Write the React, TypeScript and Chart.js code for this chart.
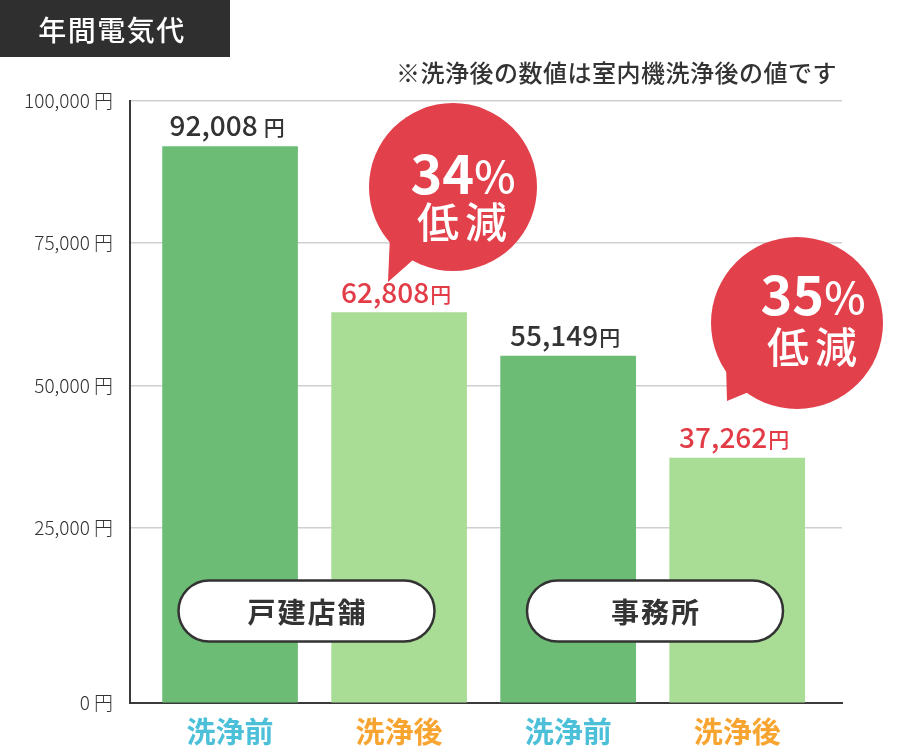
import React, { useEffect, useRef } from "react";
import { Chart, registerables } from "chart.js";

Chart.register(...registerables);

// ---- data ----
const categories = ["洗浄前", "洗浄後", "洗浄前", "洗浄後"];
const groupLabels = ["戸建店舗", "事務所"];
const costValues = [92008, 62808, 55149, 37262];
const reductionLabels = ["34%", "35%"];
const yTickValues = [0, 25000, 50000, 75000, 100000];
const titleText = "年間電気代";
const noteText = "※洗浄後の数値は室内機洗浄後の値です";
const unitText = "円";
const reductionWord = "低減";

// ---- styles ----
const FONT = "'Noto Sans CJK JP', 'Noto Sans', sans-serif";
const barColors = ["#6cbc75", "#a9dd96", "#6cbc75", "#a9dd96"];
const valueColors = ["#333333", "#e23c47", "#333333", "#e23c47"];
const tickColors = ["#4cbfd9", "#f7a530", "#4cbfd9", "#f7a530"];
const valueGaps = [6, 1, 1, 1];
const RED = "#e2404b";
// The reference draws its 0 baseline below the linear position of 0
const AXIS_FLOOR = -5800;

function fmt(v: number) {
  return v.toLocaleString("en-US");
}

function roundRectPath(ctx: CanvasRenderingContext2D, x: number, y: number, w: number, h: number, r: number) {
  ctx.beginPath();
  ctx.moveTo(x + r, y);
  ctx.lineTo(x + w - r, y);
  ctx.arc(x + w - r, y + r, r, -Math.PI / 2, 0);
  ctx.lineTo(x + w, y + h - r);
  ctx.arc(x + w - r, y + h - r, r, 0, Math.PI / 2);
  ctx.lineTo(x + r, y + h);
  ctx.arc(x + r, y + h - r, r, Math.PI / 2, Math.PI);
  ctx.lineTo(x, y + r);
  ctx.arc(x + r, y + r, r, Math.PI, Math.PI * 1.5);
  ctx.closePath();
}

export default function App() {
  const ref = useRef<HTMLCanvasElement>(null);

  useEffect(() => {
    const canvas = ref.current;
    if (!canvas) return;

    const decor = {
      id: "decor",
      beforeDraw(chart: any) {
        const ctx: CanvasRenderingContext2D = chart.ctx;
        ctx.save();
        ctx.fillStyle = "#ffffff";
        ctx.fillRect(0, 0, chart.width, chart.height);
        // title tag
        ctx.fillStyle = "#2f2f2f";
        ctx.fillRect(0, 0, 230, 57);
        ctx.fillStyle = "#ffffff";
        ctx.font = `500 28px ${FONT}`;
        ctx.textAlign = "center";
        ctx.textBaseline = "middle";
        (ctx as any).letterSpacing = "1.5px";
        ctx.fillText(titleText, 112, 30);
        // note
        ctx.fillStyle = "#333333";
        ctx.font = `500 24px ${FONT}`;
        ctx.textAlign = "right";
        (ctx as any).letterSpacing = "0.5px";
        ctx.fillText(noteText, 837, 73);
        ctx.restore();
      },
      afterDatasetsDraw(chart: any) {
        const ctx: CanvasRenderingContext2D = chart.ctx;
        const meta = chart.getDatasetMeta(0);
        ctx.save();
        ctx.textBaseline = "alphabetic";
        ctx.textAlign = "left";
        meta.data.forEach((el: any, i: number) => {
          const num = fmt(costValues[i]);
          ctx.font = `500 28px ${FONT}`;
          const w1 = ctx.measureText(num).width;
          ctx.font = `500 21px ${FONT}`;
          const w2 = ctx.measureText(unitText).width;
          const total = w1 + valueGaps[i] + w2;
          const x0 = el.x - 3 - total / 2;
          const y0 = el.y - 10;
          ctx.fillStyle = valueColors[i];
          ctx.font = `500 28px ${FONT}`;
          ctx.fillText(num, x0, y0);
          ctx.font = `500 21px ${FONT}`;
          ctx.fillText(unitText, x0 + w1 + valueGaps[i], y0 - 1);
        });
        // group pills
        const pills = [
          { cx: 306.5, cy: 611 },
          { cx: 655, cy: 611 },
        ];
        pills.forEach((p, i) => {
          const w = 256, h = 61;
          roundRectPath(ctx, p.cx - w / 2, p.cy - h / 2, w, h, h / 2);
          ctx.fillStyle = "#ffffff";
          ctx.fill();
          ctx.lineWidth = 2.5;
          ctx.strokeStyle = "#333333";
          ctx.stroke();
          ctx.fillStyle = "#333333";
          ctx.font = `700 28px ${FONT}`;
          ctx.textAlign = "center";
          ctx.textBaseline = "middle";
          (ctx as any).letterSpacing = "2px";
          ctx.fillText(groupLabels[i], p.cx + 1, p.cy + 1);
          (ctx as any).letterSpacing = "0px";
        });
        ctx.restore();
      },
      afterDraw(chart: any) {
        const ctx: CanvasRenderingContext2D = chart.ctx;
        const bubbles = [
          { cx: 453, cy: 187, r: 84, a1: 118, a2: 142, tx: 388, ty: 282, px: 463, py: 173, wx: 462, wy: 222 },
          { cx: 797, cy: 323, r: 86, a1: 124, a2: 150, tx: 727, ty: 401, px: 813, py: 294, wx: 812, wy: 347 },
        ];
        ctx.save();
        bubbles.forEach((b, i) => {
          ctx.fillStyle = RED;
          ctx.beginPath();
          ctx.arc(b.cx, b.cy, b.r, 0, Math.PI * 2);
          ctx.fill();
          const r1 = (b.a1 * Math.PI) / 180;
          const r2 = (b.a2 * Math.PI) / 180;
          ctx.beginPath();
          ctx.moveTo(b.cx + (b.r - 4) * Math.cos(r1), b.cy + (b.r - 4) * Math.sin(r1));
          ctx.lineTo(b.tx, b.ty);
          ctx.lineTo(b.cx + (b.r - 4) * Math.cos(r2), b.cy + (b.r - 4) * Math.sin(r2));
          ctx.closePath();
          ctx.fill();
          // percentage
          const label = reductionLabels[i];
          const digits = label.replace("%", "");
          ctx.fillStyle = "#ffffff";
          ctx.textBaseline = "middle";
          ctx.textAlign = "left";
          ctx.font = `700 54px ${FONT}`;
          const dw = ctx.measureText(digits).width;
          ctx.font = `500 44px ${FONT}`;
          const pw = ctx.measureText("%").width;
          const x0 = b.px - (dw + pw) / 2;
          ctx.font = `700 54px ${FONT}`;
          ctx.fillText(digits, x0, b.py);
          ctx.font = `500 44px ${FONT}`;
          ctx.fillText("%", x0 + dw, b.py + 3);
          ctx.font = `500 42px ${FONT}`;
          ctx.textAlign = "center";
          (ctx as any).letterSpacing = "6px";
          ctx.fillText(reductionWord, b.wx + 3, b.wy);
          (ctx as any).letterSpacing = "0px";
        });
        ctx.restore();
      },
    };

    const chart = new Chart(canvas, {
      type: "bar",
      data: {
        datasets: [
          {
            data: costValues.map((v, i) => ({ x: i + 1, y: v })),
            backgroundColor: barColors,
            borderWidth: 0,
            barThickness: 135,
            base: AXIS_FLOOR,
          } as any,
        ],
      },
      options: {
        responsive: false,
        animation: false,
        devicePixelRatio: 1,
        layout: { padding: { top: 101, right: 57, left: 0, bottom: 0 } },
        plugins: {
          legend: { display: false },
          tooltip: { enabled: false },
        },
        scales: {
          x: {
            type: "linear",
            offset: false,
            min: 0.408,
            max: 4.62,
            afterBuildTicks: (scale: any) => {
              scale.ticks = categories.map((_, i) => ({ value: i + 1 }));
            },
            afterFit: (scale: any) => {
              scale.height = 45;
            },
            grid: { display: false, drawTicks: false, offset: false },
            border: { display: true, color: "#3a3a3a", width: 2 },
            ticks: {
              autoSkip: false,
              maxRotation: 0,
              padding: 12,
              font: { family: FONT, size: 29, weight: "bold" as any },
              color: (ctx: any) => tickColors[ctx.index] || "#333",
              callback: (v: any) => categories[Number(v) - 1] ?? "",
            },
          },
          y: {
            type: "linear",
            min: AXIS_FLOOR,
            max: 100000,
            afterBuildTicks: (scale: any) => {
              scale.ticks = yTickValues.map((v) => ({ value: v === 0 ? AXIS_FLOOR : v }));
            },
            afterFit: (scale: any) => {
              scale.width = 130;
            },
            grid: {
              drawTicks: false,
              color: (ctx: any) => (ctx.tick && ctx.tick.value <= 0 ? "rgba(0,0,0,0)" : "#cfcfcf"),
              lineWidth: 1.5,
            },
            border: { display: true, color: "#3a3a3a", width: 2 },
            ticks: {
              padding: 17,
              font: { family: FONT, size: 19, weight: "300" as any },
              color: "#333333",
              callback: (v: any) => `${Number(v) <= 0 ? "0" : fmt(Number(v))} ${unitText}`,
            },
          },
        },
      },
      plugins: [decor as any],
    });

    return () => chart.destroy();
  }, []);

  return (
    <div style={{ position: "absolute", left: 0, top: 0, width: 899, height: 748, background: "#fff" }}>
      <canvas ref={ref} width={899} height={748} style={{ width: 899, height: 748, display: "block" }} />
    </div>
  );
}
